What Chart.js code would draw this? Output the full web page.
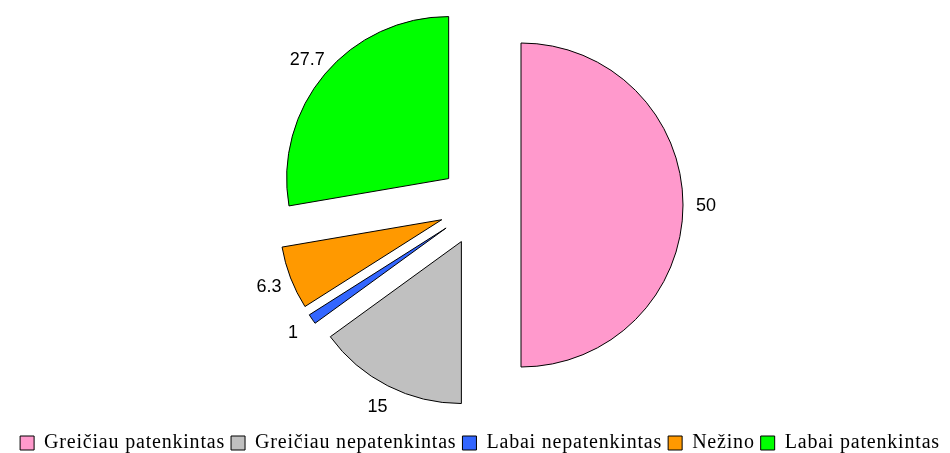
<!DOCTYPE html>
<html>
<head>
<meta charset="utf-8">
<script src="https://cdn.jsdelivr.net/npm/chart.js@4/dist/chart.umd.min.js"></script>
<style>
    body { margin: 0; background: #ffffff; }
    #grafico { display: block; }
</style>
</head>
<body>
<canvas id="grafico" width="950" height="453"></canvas>
<script>
var categorie = ['Greičiau patenkintas', 'Greičiau nepatenkintas', 'Labai nepatenkintas', 'Nežino', 'Labai patenkintas'];
var valori = [50, 15, 1, 6.3, 27.7];
var etichette = ['50', '15', '1', '6.3', '27.7'];
var colori = ['#ff99cc', '#c0c0c0', '#3366ff', '#ff9900', '#00ff00'];

var raggio = 162;       // raggio della torta
var distacco = 41;      // quanto escono le fette
var distEtichetta = 185;

// sposto ogni fetta lungo la sua bisettrice (stesso distacco per tutte)
var pluginDistacco = {
    id: 'distacco',
    afterDatasetsUpdate: function (chart) {
        var arcs = chart.getDatasetMeta(0).data;
        for (var i = 0; i < arcs.length; i++) {
            var a = arcs[i];
            var meta = (a.startAngle + a.endAngle) / 2;
            a.x += Math.cos(meta) * distacco;
            a.y += Math.sin(meta) * distacco;
        }
    }
};

var pluginEtichette = {
    id: 'etichette',
    beforeLayout: function (chart) {
        // il font della legenda nel grafico originale e' piu' largo
        chart.ctx.letterSpacing = '0.8px';
    },
    afterDatasetsDraw: function (chart) {
        var ctx = chart.ctx;
        var arcs = chart.getDatasetMeta(0).data;
        ctx.save();
        ctx.letterSpacing = '0px';
        ctx.font = '18px "Liberation Sans", Arial, sans-serif';
        ctx.fillStyle = '#000000';
        ctx.textAlign = 'center';
        ctx.textBaseline = 'middle';
        for (var i = 0; i < arcs.length; i++) {
            var a = arcs[i];
            var meta = (a.startAngle + a.endAngle) / 2;
            ctx.fillText(etichette[i], a.x + Math.cos(meta) * distEtichetta, a.y + Math.sin(meta) * distEtichetta + 1);
        }
        ctx.restore();
    }
};

var chart = new Chart(document.getElementById('grafico'), {
    type: 'pie',
    data: {
        labels: categorie,
        datasets: [{
            data: valori,
            backgroundColor: colori,
            borderColor: '#000000',
            borderWidth: 1,
            hoverOffset: 0
        }]
    },
    options: {
        responsive: false,
        animation: false,
        events: [],
        devicePixelRatio: 1,
        radius: raggio,
        layout: {
            padding: { left: 10, right: 0, top: 0, bottom: 0 }
        },
        plugins: {
            tooltip: { enabled: false },
            legend: {
                position: 'bottom',
                maxHeight: 43,
                title: {
                    display: true,
                    text: '',
                    padding: { top: 2, bottom: 3 },
                    font: { size: 10 }
                },
                labels: {
                    boxWidth: 14,
                    boxHeight: 14,
                    padding: 6,
                    color: '#000000',
                    font: { family: '"Liberation Serif", "Times New Roman", serif', size: 20 }
                }
            }
        }
    },
    plugins: [pluginDistacco, pluginEtichette]
});
</script>
</body>
</html>
